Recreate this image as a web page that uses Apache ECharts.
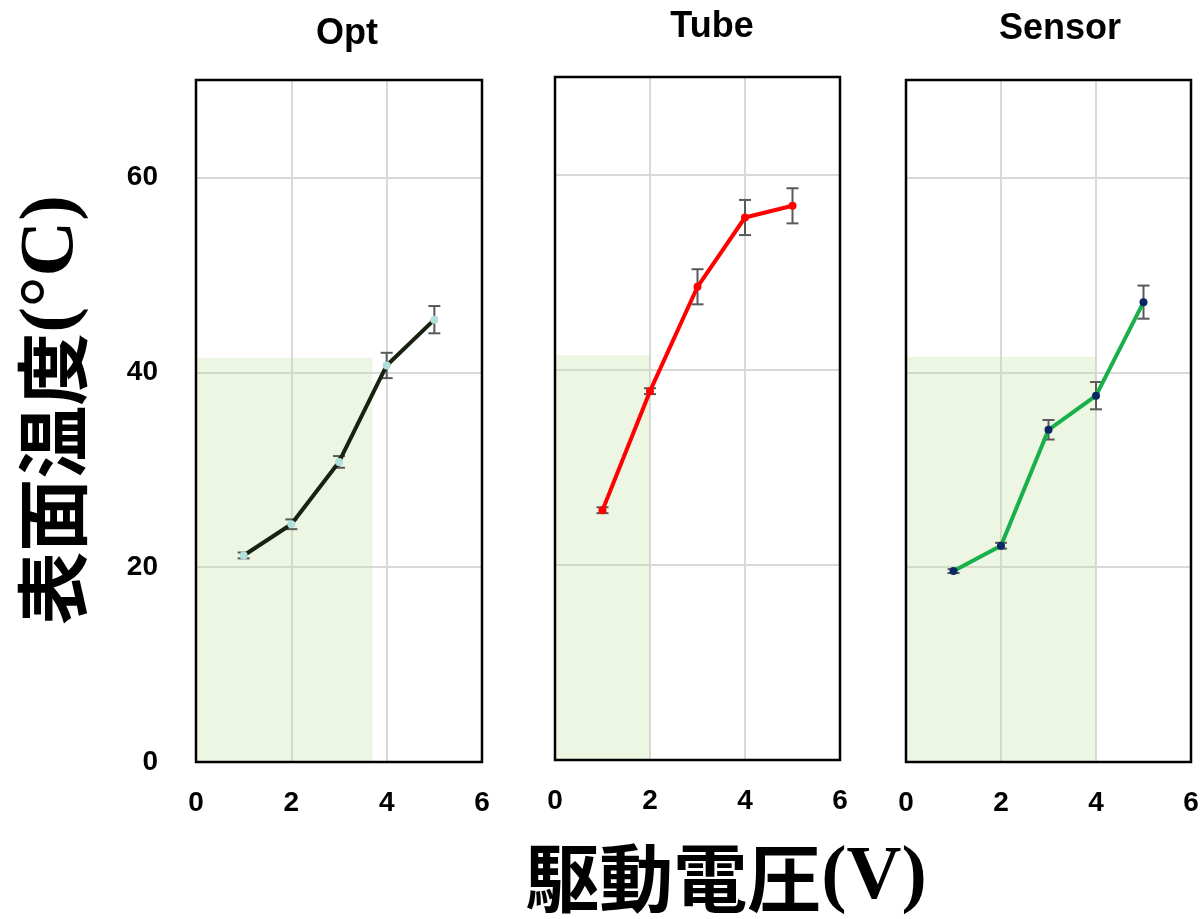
<!DOCTYPE html>
<html>
<head>
<meta charset="utf-8">
<style>
html, body { margin: 0; padding: 0; background: #fff; }
#chart { width: 1202px; height: 919px; }
</style>
<script src="https://cdn.jsdelivr.net/npm/echarts@6/dist/echarts.min.js"></script>
</head>
<body>
<div id="chart"></div>
<script>
// ---- data ----
var voltage = [1, 2, 3, 4, 5];
var panelNames = ['Opt', 'Tube', 'Sensor'];
var optTemp = [21.2, 24.4, 30.8, 40.7, 45.4];
var optErr = [0.3, 0.5, 0.6, 1.3, 1.4];
var tubeTemp = [25.6, 37.8, 48.5, 55.6, 56.8];
var tubeErr = [0.3, 0.3, 1.8, 1.8, 1.8];
var sensorTemp = [19.6, 22.2, 34.1, 37.6, 47.2];
var sensorErr = [0.2, 0.3, 1.0, 1.4, 1.7];
var shadeEnd = [3.7, 2, 4];       // green band right edge (V)
var shadeTop = [41.5, 41.5, 41.6]; // green band top (°C)

var temps = [optTemp, tubeTemp, sensorTemp];
var errs = [optErr, tubeErr, sensorErr];
var lineColors = ['#18220f', '#ff0000', '#18b04a'];
var dotColors = ['#b2dfdc', '#ff0000', '#0b2766'];

// grid boxes (left, top, width, height)
var boxes = [
  [196, 80, 286, 682],
  [555, 77, 285, 683],
  [906, 80, 285, 682]
];
var titleX = [342, 707, 1055];
var titleY = [32, 25, 27];

var chart = echarts.init(document.getElementById('chart'));

function errorBars(params, api) {
  var x = api.value(0);
  var pLo = api.coord([x, api.value(1)]);
  var pHi = api.coord([x, api.value(2)]);
  var cap = 6;
  var st = { stroke: '#595959', lineWidth: 2 };
  return {
    type: 'group',
    children: [
      { type: 'line', shape: { x1: pLo[0], y1: pLo[1], x2: pHi[0], y2: pHi[1] }, style: st },
      { type: 'line', shape: { x1: pLo[0] - cap, y1: pLo[1], x2: pLo[0] + cap, y2: pLo[1] }, style: st },
      { type: 'line', shape: { x1: pHi[0] - cap, y1: pHi[1], x2: pHi[0] + cap, y2: pHi[1] }, style: st }
    ]
  };
}

var grids = [], xAxes = [], yAxes = [], series = [], titles = [], frames = [];
for (var i = 0; i < 3; i++) {
  var b = boxes[i];
  grids.push({ left: b[0], top: b[1], width: b[2], height: b[3] });
  frames.push({
    type: 'rect', z: 100, silent: true,
    shape: { x: b[0], y: b[1], width: b[2], height: b[3] },
    style: { fill: 'none', stroke: '#000', lineWidth: 2.5 }
  });
  xAxes.push({
    gridIndex: i, type: 'value', min: 0, max: 6, interval: 2,
    axisLine: { show: false }, axisTick: { show: false },
    axisLabel: { margin: 27, color: '#000', fontSize: 28, fontWeight: 'bold', fontFamily: 'Liberation Sans' },
    splitLine: { show: true, showMinLine: false, showMaxLine: false, lineStyle: { color: '#d9d9d9', width: 2 } }
  });
  yAxes.push({
    gridIndex: i, type: 'value', min: 0, max: 70, interval: 20,
    axisLine: { show: false }, axisTick: { show: false },
    axisLabel: {
      show: i === 0, margin: 38, color: '#000', fontSize: 28, fontWeight: 'bold',
      fontFamily: 'Liberation Sans', showMaxLabel: false
    },
    splitLine: { show: true, showMinLine: false, showMaxLine: false, lineStyle: { color: '#d9d9d9', width: 2 } }
  });
  titles.push({
    text: panelNames[i], left: titleX[i], top: titleY[i] - 21, textAlign: 'center',
    textStyle: { fontSize: 36, fontWeight: 'bold', color: '#000', fontFamily: 'Liberation Sans' }
  });

  var bars = voltage.map(function (v, k) {
    return [v, temps[i][k] - errs[i][k], temps[i][k] + errs[i][k]];
  });
  series.push({
    type: 'custom', xAxisIndex: i, yAxisIndex: i,
    renderItem: errorBars, encode: { x: 0, y: [1, 2] },
    data: bars, silent: true
  });
  series.push({
    type: 'line', xAxisIndex: i, yAxisIndex: i,
    data: voltage.map(function (v, k) { return [v, temps[i][k]]; }),
    symbol: 'circle', symbolSize: 8,
    lineStyle: { color: lineColors[i], width: 4 },
    itemStyle: { color: dotColors[i] },
    clip: false,
    markArea: {
      silent: true,
      itemStyle: { color: 'rgba(196, 224, 160, 0.3)' },
      data: [[{ coord: [0, -0.7] }, { coord: [shadeEnd[i], shadeTop[i]] }]]
    }
  });
}

var option = {
  animation: false,
  title: titles,
  grid: grids,
  xAxis: xAxes,
  yAxis: yAxes,
  series: series,
  graphic: frames.concat([
    {
      type: 'text', x: 52, y: 410, rotation: Math.PI / 2,
      style: {
        text: '{c|表面温度}{s|(°C)}',
        align: 'center', verticalAlign: 'middle',
        rich: {
          c: { fontFamily: 'Noto Sans CJK JP', fontWeight: 'bold', fontSize: 73, fill: '#000' },
          s: { fontFamily: 'Liberation Serif', fontWeight: 'bold', fontSize: 77, fill: '#000' }
        }
      }
    },
    {
      type: 'text', x: 726, y: 878,
      style: {
        text: '{c|駆動電圧}{s|(V)}',
        align: 'center', verticalAlign: 'middle',
        rich: {
          c: { fontFamily: 'Noto Sans CJK JP', fontWeight: 'bold', fontSize: 74, fill: '#000' },
          s: { fontFamily: 'Liberation Serif', fontWeight: 'bold', fontSize: 76, fill: '#000' }
        }
      }
    }
  ])
};
chart.setOption(option);
</script>
</body>
</html>
